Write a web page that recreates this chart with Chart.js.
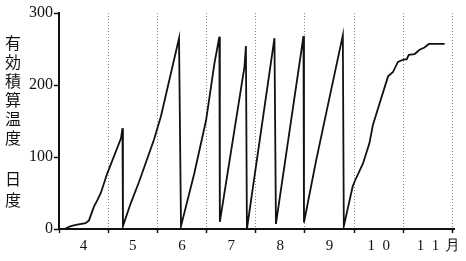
<!DOCTYPE html>
<html lang="ja">
<head>
<meta charset="utf-8">
<title>有効積算温度</title>
<script src="https://cdn.jsdelivr.net/npm/chart.js@4/dist/chart.umd.min.js"></script>
<style>
    html, body { margin: 0; padding: 0; background: #ffffff; }
    #wrap { width: 466px; height: 261px; position: relative; }
</style>
</head>
<body>
<div id="wrap"><canvas id="heatChart"></canvas></div>
<script>
// Data (x = month, fractional)
const monthX = [4.11, 4.14, 4.24, 4.37, 4.54, 4.61, 4.71, 4.78, 4.85, 4.98, 5.26, 5.29, 5.30,
    5.46, 5.63, 5.93, 6.07, 6.44, 6.48, 6.75, 6.99, 7.16, 7.26, 7.27, 7.77, 7.80, 7.82,
    8.38, 8.41, 8.97, 8.98, 9.23, 9.46, 9.77, 9.79, 9.97, 10.01, 10.18, 10.31, 10.38, 10.52,
    10.69, 10.79, 10.89, 10.99, 11.07, 11.11, 11.23, 11.33, 11.43, 11.52, 11.84];
const heatY = [0, 1, 4, 6, 8, 12, 31, 40, 50, 77, 126, 140, 4,
    36, 66, 124, 156, 265, 4, 77, 151, 230, 267, 10, 225, 254, 0,
    265, 7, 268, 9, 96, 170, 269, 4, 59, 66, 91, 119, 144, 175,
    212, 218, 232, 235, 236, 242, 243, 249, 252, 257, 257];

const monthBounds = [4, 5, 6, 7, 8, 9, 10, 11, 12];
const monthLabels = ['4', '5', '6', '7', '8', '9', '1\u20020', '1\u20021'];
const yTicks = [0, 100, 200, 300];
const yTitle = '有効積算温度';
const yUnit = '日度';
const axisUnit = '月';

document.addEventListener('DOMContentLoaded', function() {
    const ctx = document.getElementById('heatChart').getContext('2d');

    const points = monthX.map((x, i) => ({ x: x, y: heatY[i] }));

    // x ticks: month boundaries (dotted line, unit under the last one) + month middles (label)
    const lastBound = monthBounds[monthBounds.length - 1];
    const xTicks = [];
    monthBounds.forEach(v => xTicks.push({ value: v, kind: 'bound', text: v === lastBound ? axisUnit : '' }));
    monthLabels.forEach((t, i) => xTicks.push({ value: monthBounds[i] + 0.5, kind: 'label', text: t }));
    xTicks.sort((a, b) => a.value - b.value);

    const tickKind = c => (c.tick && xTicks[c.index]) ? xTicks[c.index].kind : 'label';

    // vertical title drawn char by char
    const titlePlugin = {
        id: 'verticalTitle',
        afterDraw(chart) {
            const c = chart.ctx;
            c.save();
            c.fillStyle = '#111';
            c.font = '16px "Noto Sans CJK JP"';
            c.textAlign = 'center';
            c.textBaseline = 'middle';
            [...yTitle].forEach((ch, i) => c.fillText(ch, 13, 43 + i * 19));
            [...yUnit].forEach((ch, i) => c.fillText(ch, 13, 179 + i * 21));
            c.restore();
        }
    };

    new Chart(ctx, {
        type: 'line',
        data: {
            datasets: [{
                data: points,
                borderColor: '#111',
                borderWidth: 1.8,
                pointRadius: 0,
                tension: 0,
                fill: false
            }]
        },
        options: {
            responsive: true,
            maintainAspectRatio: false,
            animation: false,
            layout: { padding: { left: 0, top: 13, right: 12, bottom: 0 } },
            plugins: {
                legend: { display: false },
                tooltip: { enabled: false }
            },
            scales: {
                x: {
                    type: 'linear',
                    min: 4,
                    max: 12.03, // a little room so the last dotted line is kept
                    afterBuildTicks: function(scale) {
                        scale.ticks = xTicks.map(t => ({ value: t.value }));
                    },
                    afterFit: function(scale) {
                        scale.height = 32;
                    },
                    ticks: {
                        autoSkip: false,
                        maxRotation: 0,
                        color: '#111',
                        padding: 4,
                        font: { family: '"Liberation Serif", serif', size: 15 },
                        callback: function(value, index) {
                            const t = xTicks[index];
                            return t ? t.text : '';
                        }
                    },
                    grid: {
                        color: c => (tickKind(c) === 'bound' && c.tick.value > 4) ? '#8a8a8a' : 'rgba(0,0,0,0)',
                        tickColor: c => tickKind(c) === 'bound' ? '#111' : 'rgba(0,0,0,0)',
                        lineWidth: 1,
                        tickLength: 4,
                        tickWidth: 1.5
                    },
                    border: { display: true, color: '#111', width: 2, dash: [1, 2] }
                },
                y: {
                    min: 0,
                    max: 300,
                    afterBuildTicks: function(scale) {
                        scale.ticks = yTicks.map(v => ({ value: v }));
                    },
                    afterFit: function(scale) {
                        scale.width = 59;
                    },
                    ticks: {
                        color: '#111',
                        padding: 1,
                        font: { family: '"Liberation Serif", serif', size: 16 }
                    },
                    grid: {
                        drawOnChartArea: false,
                        tickColor: '#111',
                        tickLength: 5,
                        tickWidth: 1.5
                    },
                    border: { display: true, color: '#111', width: 2 }
                }
            }
        },
        plugins: [titlePlugin]
    });
});
</script>
</body>
</html>
